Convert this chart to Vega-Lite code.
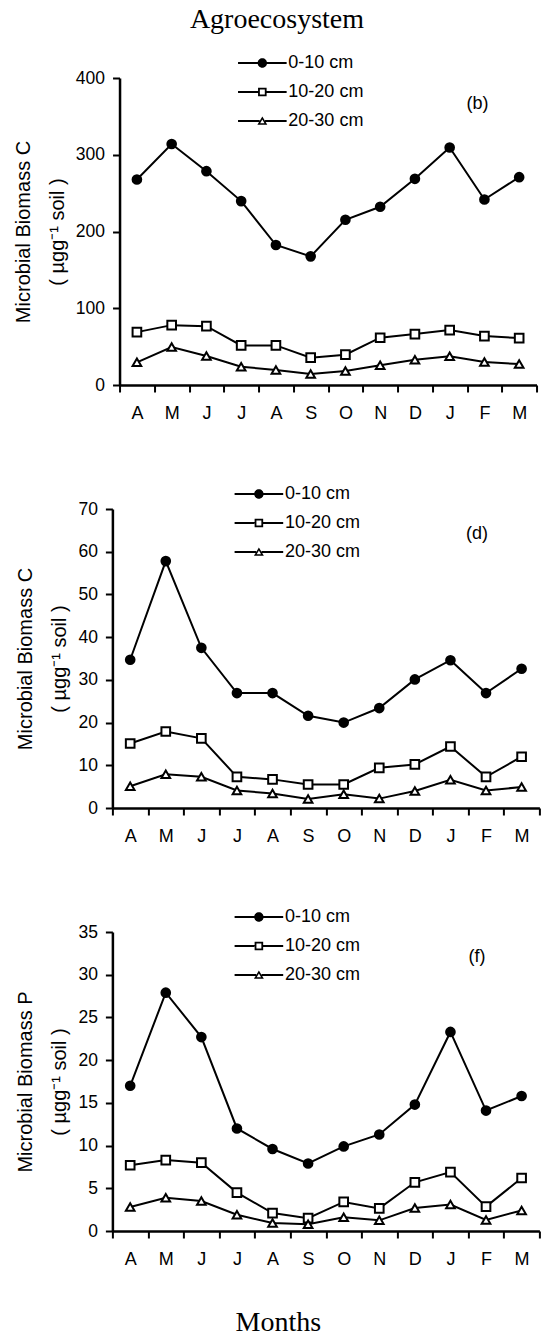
{
  "$schema": "https://vega.github.io/schema/vega-lite/v6.json",
  "background": "white",
  "padding": {"left": 13, "top": 6, "right": 0, "bottom": 0},
  "title": {"text": "Agroecosystem", "font": "Liberation Serif", "fontSize": 28, "fontWeight": "normal", "color": "black", "anchor": "middle", "offset": 20, "dx": -5},
  "config": {
    "view": {"stroke": null},
    "axis": {"domainColor": "black", "domainWidth": 2.5, "tickColor": "black", "tickWidth": 2, "tickSize": 7, "labelColor": "black", "labelFont": "Liberation Sans", "labelFontSize": 17.5, "titleFont": "Liberation Sans", "titleFontSize": 20, "titleFontWeight": "normal", "titleColor": "black", "grid": false, "labelOverlap": false},
    "axisX": {"tickBand": "extent", "labelFontSize": 18, "labelPadding": 12, "labelAngle": 0, "labelExpr": "substring(datum.label, 0, 1)", "title": null},
    "axisY": {"labelPadding": 8, "titleLineHeight": 34, "titlePadding": 8},
    "legend": {"orient": "none", "title": null, "direction": "vertical", "padding": 0, "symbolSize": 81, "labelOffset": 17, "rowPadding": 11, "labelFont": "Liberation Sans", "labelFontSize": 18, "labelColor": "black", "symbolOpacity": 1, "symbolFillColor": "black", "symbolStrokeWidth": 0}
  },
  "datasets": {
    "b": [
      {"month": "Apr", "depth": "0-10 cm", "value": 267.7},
      {"month": "May", "depth": "0-10 cm", "value": 314},
      {"month": "Jun", "depth": "0-10 cm", "value": 278.6},
      {"month": "Jul", "depth": "0-10 cm", "value": 239.6},
      {"month": "Aug", "depth": "0-10 cm", "value": 182.4},
      {"month": "Sep", "depth": "0-10 cm", "value": 167.6},
      {"month": "Oct", "depth": "0-10 cm", "value": 215.3},
      {"month": "Nov", "depth": "0-10 cm", "value": 232.2},
      {"month": "Dec", "depth": "0-10 cm", "value": 268.6},
      {"month": "Jan", "depth": "0-10 cm", "value": 309.5},
      {"month": "Feb", "depth": "0-10 cm", "value": 241.7},
      {"month": "Mar", "depth": "0-10 cm", "value": 270.8},
      {"month": "Apr", "depth": "10-20 cm", "value": 68.9},
      {"month": "May", "depth": "10-20 cm", "value": 78},
      {"month": "Jun", "depth": "10-20 cm", "value": 76.7},
      {"month": "Jul", "depth": "10-20 cm", "value": 51.6},
      {"month": "Aug", "depth": "10-20 cm", "value": 51.6},
      {"month": "Sep", "depth": "10-20 cm", "value": 35.6},
      {"month": "Oct", "depth": "10-20 cm", "value": 39.5},
      {"month": "Nov", "depth": "10-20 cm", "value": 61.6},
      {"month": "Dec", "depth": "10-20 cm", "value": 66.3},
      {"month": "Jan", "depth": "10-20 cm", "value": 71.5},
      {"month": "Feb", "depth": "10-20 cm", "value": 63.7},
      {"month": "Mar", "depth": "10-20 cm", "value": 61.1},
      {"month": "Apr", "depth": "20-30 cm", "value": 29.5},
      {"month": "May", "depth": "20-30 cm", "value": 49.4},
      {"month": "Jun", "depth": "20-30 cm", "value": 37.7},
      {"month": "Jul", "depth": "20-30 cm", "value": 23.9},
      {"month": "Aug", "depth": "20-30 cm", "value": 19.5},
      {"month": "Sep", "depth": "20-30 cm", "value": 14.3},
      {"month": "Oct", "depth": "20-30 cm", "value": 18.2},
      {"month": "Nov", "depth": "20-30 cm", "value": 25.6},
      {"month": "Dec", "depth": "20-30 cm", "value": 33},
      {"month": "Jan", "depth": "20-30 cm", "value": 37.3},
      {"month": "Feb", "depth": "20-30 cm", "value": 29.9},
      {"month": "Mar", "depth": "20-30 cm", "value": 27.3}
    ],
    "d": [
      {"month": "Apr", "depth": "0-10 cm", "value": 34.7},
      {"month": "May", "depth": "0-10 cm", "value": 57.8},
      {"month": "Jun", "depth": "0-10 cm", "value": 37.5},
      {"month": "Jul", "depth": "0-10 cm", "value": 26.9},
      {"month": "Aug", "depth": "0-10 cm", "value": 26.9},
      {"month": "Sep", "depth": "0-10 cm", "value": 21.6},
      {"month": "Oct", "depth": "0-10 cm", "value": 20.0},
      {"month": "Nov", "depth": "0-10 cm", "value": 23.4},
      {"month": "Dec", "depth": "0-10 cm", "value": 30.1},
      {"month": "Jan", "depth": "0-10 cm", "value": 34.6},
      {"month": "Feb", "depth": "0-10 cm", "value": 26.9},
      {"month": "Mar", "depth": "0-10 cm", "value": 32.6},
      {"month": "Apr", "depth": "10-20 cm", "value": 15.1},
      {"month": "May", "depth": "10-20 cm", "value": 17.9},
      {"month": "Jun", "depth": "10-20 cm", "value": 16.3},
      {"month": "Jul", "depth": "10-20 cm", "value": 7.3},
      {"month": "Aug", "depth": "10-20 cm", "value": 6.7},
      {"month": "Sep", "depth": "10-20 cm", "value": 5.5},
      {"month": "Oct", "depth": "10-20 cm", "value": 5.5},
      {"month": "Nov", "depth": "10-20 cm", "value": 9.4},
      {"month": "Dec", "depth": "10-20 cm", "value": 10.2},
      {"month": "Jan", "depth": "10-20 cm", "value": 14.4},
      {"month": "Feb", "depth": "10-20 cm", "value": 7.3},
      {"month": "Mar", "depth": "10-20 cm", "value": 12.0},
      {"month": "Apr", "depth": "20-30 cm", "value": 5.1},
      {"month": "May", "depth": "20-30 cm", "value": 7.9},
      {"month": "Jun", "depth": "20-30 cm", "value": 7.3},
      {"month": "Jul", "depth": "20-30 cm", "value": 4.1},
      {"month": "Aug", "depth": "20-30 cm", "value": 3.4},
      {"month": "Sep", "depth": "20-30 cm", "value": 2.1},
      {"month": "Oct", "depth": "20-30 cm", "value": 3.2},
      {"month": "Nov", "depth": "20-30 cm", "value": 2.2},
      {"month": "Dec", "depth": "20-30 cm", "value": 4.0},
      {"month": "Jan", "depth": "20-30 cm", "value": 6.6},
      {"month": "Feb", "depth": "20-30 cm", "value": 4.1},
      {"month": "Mar", "depth": "20-30 cm", "value": 4.9}
    ],
    "f": [
      {"month": "Apr", "depth": "0-10 cm", "value": 17.0},
      {"month": "May", "depth": "0-10 cm", "value": 27.9},
      {"month": "Jun", "depth": "0-10 cm", "value": 22.7},
      {"month": "Jul", "depth": "0-10 cm", "value": 12.0},
      {"month": "Aug", "depth": "0-10 cm", "value": 9.6},
      {"month": "Sep", "depth": "0-10 cm", "value": 7.9},
      {"month": "Oct", "depth": "0-10 cm", "value": 9.9},
      {"month": "Nov", "depth": "0-10 cm", "value": 11.3},
      {"month": "Dec", "depth": "0-10 cm", "value": 14.8},
      {"month": "Jan", "depth": "0-10 cm", "value": 23.3},
      {"month": "Feb", "depth": "0-10 cm", "value": 14.1},
      {"month": "Mar", "depth": "0-10 cm", "value": 15.8},
      {"month": "Apr", "depth": "10-20 cm", "value": 7.7},
      {"month": "May", "depth": "10-20 cm", "value": 8.3},
      {"month": "Jun", "depth": "10-20 cm", "value": 8.0},
      {"month": "Jul", "depth": "10-20 cm", "value": 4.5},
      {"month": "Aug", "depth": "10-20 cm", "value": 2.1},
      {"month": "Sep", "depth": "10-20 cm", "value": 1.5},
      {"month": "Oct", "depth": "10-20 cm", "value": 3.4},
      {"month": "Nov", "depth": "10-20 cm", "value": 2.65},
      {"month": "Dec", "depth": "10-20 cm", "value": 5.7},
      {"month": "Jan", "depth": "10-20 cm", "value": 6.9},
      {"month": "Feb", "depth": "10-20 cm", "value": 2.85},
      {"month": "Mar", "depth": "10-20 cm", "value": 6.2},
      {"month": "Apr", "depth": "20-30 cm", "value": 2.8},
      {"month": "May", "depth": "20-30 cm", "value": 3.9},
      {"month": "Jun", "depth": "20-30 cm", "value": 3.5},
      {"month": "Jul", "depth": "20-30 cm", "value": 1.9},
      {"month": "Aug", "depth": "20-30 cm", "value": 0.93},
      {"month": "Sep", "depth": "20-30 cm", "value": 0.78},
      {"month": "Oct", "depth": "20-30 cm", "value": 1.6},
      {"month": "Nov", "depth": "20-30 cm", "value": 1.25},
      {"month": "Dec", "depth": "20-30 cm", "value": 2.7},
      {"month": "Jan", "depth": "20-30 cm", "value": 3.1},
      {"month": "Feb", "depth": "20-30 cm", "value": 1.3},
      {"month": "Mar", "depth": "20-30 cm", "value": 2.4}
    ]
  },
  "spacing": 63,
  "columns": 1,
  "center": true,
  "resolve": {"scale": {"x": "independent", "y": "independent", "shape": "independent", "fill": "independent"}},
  "concat": [
    {
      "width": 417, "height": 307,
      "data": {"name": "b"},
      "resolve": {"scale": {"shape": "independent"}},
      "layer": [
        {"mark": {"type": "line", "color": "black", "strokeWidth": 2},
         "encoding": {
           "x": {"field": "month", "type": "ordinal", "scale": {"type": "band", "paddingInner": 0, "paddingOuter": 0, "domain": ["Apr","May","Jun","Jul","Aug","Sep","Oct","Nov","Dec","Jan","Feb","Mar"]}},
           "y": {"field": "value", "type": "quantitative", "scale": {"domain": [0, 400], "nice": false}, "axis": {"values": [0,50,100,150,200,250,300,350,400], "title": ["Microbial Biomass C", "( µgg⁻¹ soil )"]}},
           "detail": {"field": "depth"}}},
        {"mark": {"type": "point", "stroke": "black", "strokeWidth": 2, "size": 75, "opacity": 1},
         "encoding": {
           "x": {"field": "month", "type": "ordinal"},
           "y": {"field": "value", "type": "quantitative"},
           "shape": {"field": "depth", "type": "nominal", "scale": {"domain": ["0-10 cm","10-20 cm","20-30 cm"], "range": ["circle","square","triangle-up"]}, "legend": null},
           "fill": {"field": "depth", "type": "nominal", "scale": {"domain": ["0-10 cm","10-20 cm","20-30 cm"], "range": ["black","white","white"]}, "legend": null}
         }},
        {"mark": {"type": "point", "filled": true, "color": "black", "opacity": 0, "size": 81},
         "encoding": {
           "x": {"field": "month", "type": "ordinal"},
           "y": {"field": "value", "type": "quantitative"},
           "shape": {"field": "depth", "type": "nominal", "scale": {"domain": ["0-10 cm","10-20 cm","20-30 cm"], "range": [
             "M-5.4,-0.22H-1V0.22H-5.4ZM1,-0.22H5.4V0.22H1ZM1.05,0A1.05,1.05,0,1,1,-1.05,0A1.05,1.05,0,1,1,1.05,0Z",
             "M-5.4,-0.22H-0.95V0.22H-5.4ZM0.95,-0.22H5.4V0.22H0.95ZM-0.95,-0.95H0.95V0.95H-0.95ZM-0.55,-0.55V0.55H0.55V-0.55Z",
             "M-5.4,-0.22H-0.6V0.22H-5.4ZM0.6,-0.22H5.4V0.22H0.6ZM0,-1L1.1,0.85H-1.1ZM0,-0.316L-0.485,0.5H0.485Z"]},
             "legend": {"legendX": 133.8, "legendY": -24}}
         }},
        {"data": {"values": [{"label": "(b)"}]},
         "mark": {"type": "text", "font": "Liberation Sans", "fontSize": 18, "color": "black", "dx": -7},
         "encoding": {"x": {"datum": "Feb"}, "y": {"datum": 366.6}, "text": {"field": "label"}}}
      ]
    },
    {
      "width": 427, "height": 299,
      "data": {"name": "d"},
      "resolve": {"scale": {"shape": "independent"}},
      "layer": [
        {"mark": {"type": "line", "color": "black", "strokeWidth": 2},
         "encoding": {
           "x": {"field": "month", "type": "ordinal", "scale": {"type": "band", "paddingInner": 0, "paddingOuter": 0, "domain": ["Apr","May","Jun","Jul","Aug","Sep","Oct","Nov","Dec","Jan","Feb","Mar"]}},
           "y": {"field": "value", "type": "quantitative", "scale": {"domain": [0, 70], "nice": false}, "axis": {"values": [0,10,20,30,40,50,60,70], "title": ["Microbial Biomass C", "( µgg⁻¹ soil )"]}},
           "detail": {"field": "depth"}}},
        {"mark": {"type": "point", "stroke": "black", "strokeWidth": 2, "size": 75, "opacity": 1},
         "encoding": {
           "x": {"field": "month", "type": "ordinal"},
           "y": {"field": "value", "type": "quantitative"},
           "shape": {"field": "depth", "type": "nominal", "scale": {"domain": ["0-10 cm","10-20 cm","20-30 cm"], "range": ["circle","square","triangle-up"]}, "legend": null},
           "fill": {"field": "depth", "type": "nominal", "scale": {"domain": ["0-10 cm","10-20 cm","20-30 cm"], "range": ["black","white","white"]}, "legend": null}
         }},
        {"mark": {"type": "point", "filled": true, "color": "black", "opacity": 0, "size": 81},
         "encoding": {
           "x": {"field": "month", "type": "ordinal"},
           "y": {"field": "value", "type": "quantitative"},
           "shape": {"field": "depth", "type": "nominal", "scale": {"domain": ["0-10 cm","10-20 cm","20-30 cm"], "range": [
             "M-5.4,-0.22H-1V0.22H-5.4ZM1,-0.22H5.4V0.22H1ZM1.05,0A1.05,1.05,0,1,1,-1.05,0A1.05,1.05,0,1,1,1.05,0Z",
             "M-5.4,-0.22H-0.95V0.22H-5.4ZM0.95,-0.22H5.4V0.22H0.95ZM-0.95,-0.95H0.95V0.95H-0.95ZM-0.55,-0.55V0.55H0.55V-0.55Z",
             "M-5.4,-0.22H-0.6V0.22H-5.4ZM0.6,-0.22H5.4V0.22H0.6ZM0,-1L1.1,0.85H-1.1ZM0,-0.316L-0.485,0.5H0.485Z"]},
             "legend": {"legendX": 137.5, "legendY": -24}}
         }},
        {"data": {"values": [{"label": "(d)"}]},
         "mark": {"type": "text", "font": "Liberation Sans", "fontSize": 18, "color": "black", "dx": -9},
         "encoding": {"x": {"datum": "Feb"}, "y": {"datum": 64.2}, "text": {"field": "label"}}},
        {"data": {"values": [{"label": "."}]},
         "mark": {"type": "text", "font": "Liberation Sans", "fontSize": 18, "opacity": 0, "align": "right", "dx": 29},
         "encoding": {"x": {"datum": "Mar"}, "y": {"datum": 35}, "text": {"field": "label"}}}
      ]
    },
    {
      "width": 427, "height": 299,
      "data": {"name": "f"},
      "resolve": {"scale": {"shape": "independent"}},
      "layer": [
        {"mark": {"type": "line", "color": "black", "strokeWidth": 2},
         "encoding": {
           "x": {"field": "month", "type": "ordinal", "scale": {"type": "band", "paddingInner": 0, "paddingOuter": 0, "domain": ["Apr","May","Jun","Jul","Aug","Sep","Oct","Nov","Dec","Jan","Feb","Mar"]},
             "axis": {"title": "Months", "titleFont": "Liberation Serif", "titleFontSize": 28, "titlePadding": 40, "titleX": 165.5}},
           "y": {"field": "value", "type": "quantitative", "scale": {"domain": [0, 35], "nice": false}, "axis": {"values": [0,5,10,15,20,25,30,35], "title": ["Microbial Biomass P", "( µgg⁻¹ soil )"]}},
           "detail": {"field": "depth"}}},
        {"mark": {"type": "point", "stroke": "black", "strokeWidth": 2, "size": 75, "opacity": 1},
         "encoding": {
           "x": {"field": "month", "type": "ordinal"},
           "y": {"field": "value", "type": "quantitative"},
           "shape": {"field": "depth", "type": "nominal", "scale": {"domain": ["0-10 cm","10-20 cm","20-30 cm"], "range": ["circle","square","triangle-up"]}, "legend": null},
           "fill": {"field": "depth", "type": "nominal", "scale": {"domain": ["0-10 cm","10-20 cm","20-30 cm"], "range": ["black","white","white"]}, "legend": null}
         }},
        {"mark": {"type": "point", "filled": true, "color": "black", "opacity": 0, "size": 81},
         "encoding": {
           "x": {"field": "month", "type": "ordinal"},
           "y": {"field": "value", "type": "quantitative"},
           "shape": {"field": "depth", "type": "nominal", "scale": {"domain": ["0-10 cm","10-20 cm","20-30 cm"], "range": [
             "M-5.4,-0.22H-1V0.22H-5.4ZM1,-0.22H5.4V0.22H1ZM1.05,0A1.05,1.05,0,1,1,-1.05,0A1.05,1.05,0,1,1,1.05,0Z",
             "M-5.4,-0.22H-0.95V0.22H-5.4ZM0.95,-0.22H5.4V0.22H0.95ZM-0.95,-0.95H0.95V0.95H-0.95ZM-0.55,-0.55V0.55H0.55V-0.55Z",
             "M-5.4,-0.22H-0.6V0.22H-5.4ZM0.6,-0.22H5.4V0.22H0.6ZM0,-1L1.1,0.85H-1.1ZM0,-0.316L-0.485,0.5H0.485Z"]},
             "legend": {"legendX": 137.5, "legendY": -24}}
         }},
        {"data": {"values": [{"label": "(f)"}]},
         "mark": {"type": "text", "font": "Liberation Sans", "fontSize": 18, "color": "black", "dx": -9},
         "encoding": {"x": {"datum": "Feb"}, "y": {"datum": 32.1}, "text": {"field": "label"}}},
        {"data": {"values": [{"label": "."}]},
         "mark": {"type": "text", "font": "Liberation Sans", "fontSize": 18, "opacity": 0, "align": "right", "dx": 29},
         "encoding": {"x": {"datum": "Mar"}, "y": {"datum": 17.5}, "text": {"field": "label"}}}
      ]
    }
  ]
}
